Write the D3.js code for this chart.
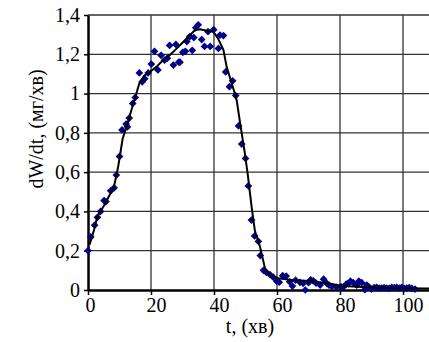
<!DOCTYPE html>
<html>
<head>
<meta charset="utf-8">
<script src="https://cdn.jsdelivr.net/npm/d3@7"></script>
<style>
  html, body { margin: 0; padding: 0; background: #fff; overflow: hidden; }
  svg { display: block; }
</style>
</head>
<body>
<svg id="chart" width="429" height="342"></svg>
<script>
// measured points, t (min) and dW/dt (mg/min)
const pointT = [0, 0.9, 2.1, 3.0, 4.0, 5.1, 5.7, 7.2, 8.3, 9.0, 10.0, 10.8, 12.1, 12.5, 13.1, 14.2, 15.0, 16.3, 17.2, 18.0, 19.1, 20.1, 21.1, 22.2, 23.2, 24.3, 25.2, 25.9, 27.1, 27.9, 28.8, 29.2, 30.1, 30.9, 31.4, 32.3, 33.1, 33.6, 34.2, 35.0, 36.1, 37.0, 38.1, 38.8, 39.9, 41.4, 41.9, 43.0, 43.7, 44.9, 45.9, 46.9, 47.8, 48.8, 50.0, 50.9, 51.9, 52.9, 54.1, 54.7, 55.7, 56.6, 57.8, 58.8, 59.9, 60.7, 61.8, 62.9, 64.0, 64.9, 65.9, 67.3, 68.3, 69.0, 70.0, 70.7, 71.5, 72.4, 73.7, 74.8, 75.8, 76.5, 77.4, 78.9, 80.3, 81.0, 82.0, 82.6, 83.3, 84.2, 85.3, 86.0, 86.9, 87.9, 88.5, 89.2, 90.0, 90.8, 91.6, 92.4, 93.2, 94.0, 94.8, 95.6, 96.4, 97.2, 98.0, 98.8, 99.6, 100.4, 101.2, 102.0, 102.8, 103.8];
const pointRate = [0.20, 0.27, 0.33, 0.37, 0.40, 0.455, 0.45, 0.505, 0.52, 0.585, 0.68, 0.815, 0.845, 0.83, 0.875, 0.95, 0.98, 1.105, 1.06, 1.075, 1.105, 1.15, 1.215, 1.12, 1.195, 1.17, 1.18, 1.245, 1.145, 1.25, 1.16, 1.16, 1.21, 1.215, 1.265, 1.29, 1.22, 1.285, 1.335, 1.35, 1.275, 1.24, 1.315, 1.24, 1.325, 1.23, 1.298, 1.295, 1.11, 1.035, 1.065, 0.99, 0.835, 0.743, 0.67, 0.53, 0.356, 0.275, 0.247, 0.175, 0.10, 0.09, 0.078, 0.065, 0.045, 0.04, 0.073, 0.071, 0.042, 0.02, 0.05, 0.039, 0.034, 0.0, 0.037, 0.052, 0.047, 0.035, 0.025, 0.055, 0.034, 0.025, 0.018, 0.014, 0.017, 0.014, 0.03, 0.033, 0.045, 0.037, 0.025, 0.045, 0.037, 0.002, 0.025, 0.015, 0.005, 0.012, 0.014, 0.01, 0.01, 0.012, 0.01, 0.008, 0.014, 0.012, 0.014, 0.01, 0.014, 0.008, 0.01, 0.012, 0.008, 0.005];

// fitted curve
const fitT = [0.5, 1.9, 3.0, 5.1, 7.2, 8.3, 9.6, 11.0, 12.1, 13.3, 14.9, 16.3, 17.8, 19.7, 21.8, 23.9, 26.0, 28.2, 30.3, 32.4, 34.0, 35.6, 37.7, 39.8, 41.3, 43.0, 44.0, 46.1, 47.2, 48.3, 49.8, 50.7, 52.0, 53.0, 54.6, 56.2, 57.8, 60.4, 65.2, 70.5, 75.8, 81.0, 88.5, 99.0, 110.0];
const fitRate = [0.23, 0.305, 0.375, 0.43, 0.494, 0.53, 0.63, 0.77, 0.825, 0.89, 0.976, 1.052, 1.09, 1.111, 1.137, 1.171, 1.196, 1.23, 1.264, 1.298, 1.324, 1.327, 1.32, 1.315, 1.28, 1.222, 1.137, 1.027, 0.967, 0.849, 0.696, 0.59, 0.415, 0.30, 0.22, 0.11, 0.076, 0.06, 0.05, 0.046, 0.034, 0.02, 0.014, 0.009, 0.007];

const xTicks = [0, 20, 40, 60, 80, 100];
const yTicks = [0, 0.2, 0.4, 0.6, 0.8, 1, 1.2, 1.4];
const yTickLabels = ["0", "0,2", "0,4", "0,6", "0,8", "1", "1,2", "1,4"];

const margins = { top: 15, left: 88, bottom: 52 };
const plotRight = 434.5; // plot runs past the window edge
const height = 342;
const serif = "'Liberation Serif', 'Times New Roman', 'DejaVu Serif', serif";

const svg = d3.select("#chart");

const xScale = d3.scaleLinear()
  .domain([0, 110])
  .range([margins.left, plotRight]);

const yScale = d3.scaleLinear()
  .domain([0, 1.4])
  .range([height - margins.bottom, margins.top]);

const styleText = sel => sel
  .style("font-family", serif)
  .style("font-size", "20px")
  .style("fill", "#000");

// grid
svg.append("g")
  .selectAll("line")
  .data(xTicks.filter(d => d > 0))
  .join("line")
  .attr("x1", d => xScale(d)).attr("x2", d => xScale(d))
  .attr("y1", yScale(0)).attr("y2", yScale(1.4))
  .attr("stroke", "#333").attr("stroke-width", 1.3);

svg.append("g")
  .selectAll("line")
  .data(yTicks.filter(d => d > 0))
  .join("line")
  .attr("x1", xScale(0)).attr("x2", plotRight)
  .attr("y1", d => yScale(d)).attr("y2", d => yScale(d))
  .attr("stroke", "#333").attr("stroke-width", 1.3);

// axes
const xAxis = svg.append("g")
  .attr("transform", `translate(0,${yScale(0)})`)
  .call(d3.axisBottom(xScale).tickValues(xTicks).tickSize(5).tickSizeOuter(0).tickFormat(d3.format("d")));
xAxis.select(".domain").attr("stroke", "#000").attr("stroke-width", 2.5);
xAxis.selectAll(".tick line").attr("stroke", "#000").attr("stroke-width", 1.5);
xAxis.selectAll(".tick text")
  .call(styleText)
  .attr("dy", "0.85em")
  .attr("dx", d => d === 0 ? 2 : 5)
  .attr("y", 5);

const yAxis = svg.append("g")
  .attr("transform", `translate(${xScale(0)},0)`)
  .call(d3.axisLeft(yScale).tickValues(yTicks).tickSize(4).tickSizeOuter(0).tickFormat((d, i) => yTickLabels[i]));
yAxis.select(".domain").attr("stroke", "#000").attr("stroke-width", 2.5);
yAxis.selectAll(".tick line").attr("stroke", "#000").attr("stroke-width", 1.5);
yAxis.selectAll(".tick text").call(styleText).attr("x", -8);

// points
const points = pointT.map((t, i) => ({ t, v: pointRate[i] }));
const diamond = d3.symbol().type(d3.symbolSquare).size(30);
svg.append("g")
  .selectAll("path")
  .data(points)
  .join("path")
  .attr("d", diamond)
  .attr("transform", d => `translate(${xScale(d.t)},${yScale(d.v)}) rotate(45)`)
  .attr("fill", "#00008b");

// fit line
const fit = fitT.map((t, i) => ({ t, v: fitRate[i] }));
svg.append("path")
  .datum(fit)
  .attr("d", d3.line().x(d => xScale(d.t)).y(d => yScale(d.v)))
  .attr("fill", "none")
  .attr("stroke", "#000")
  .attr("stroke-width", 2)
  .attr("stroke-linejoin", "round");

// axis titles
svg.append("text")
  .attr("x", 250).attr("y", 333)
  .attr("text-anchor", "middle")
  .call(styleText)
  .text("t, (хв)");

svg.append("text")
  .attr("transform", "translate(43,129) rotate(-90)")
  .attr("text-anchor", "middle")
  .call(styleText)
  .text("dW/dt, (мг/хв)");
</script>
</body>
</html>
